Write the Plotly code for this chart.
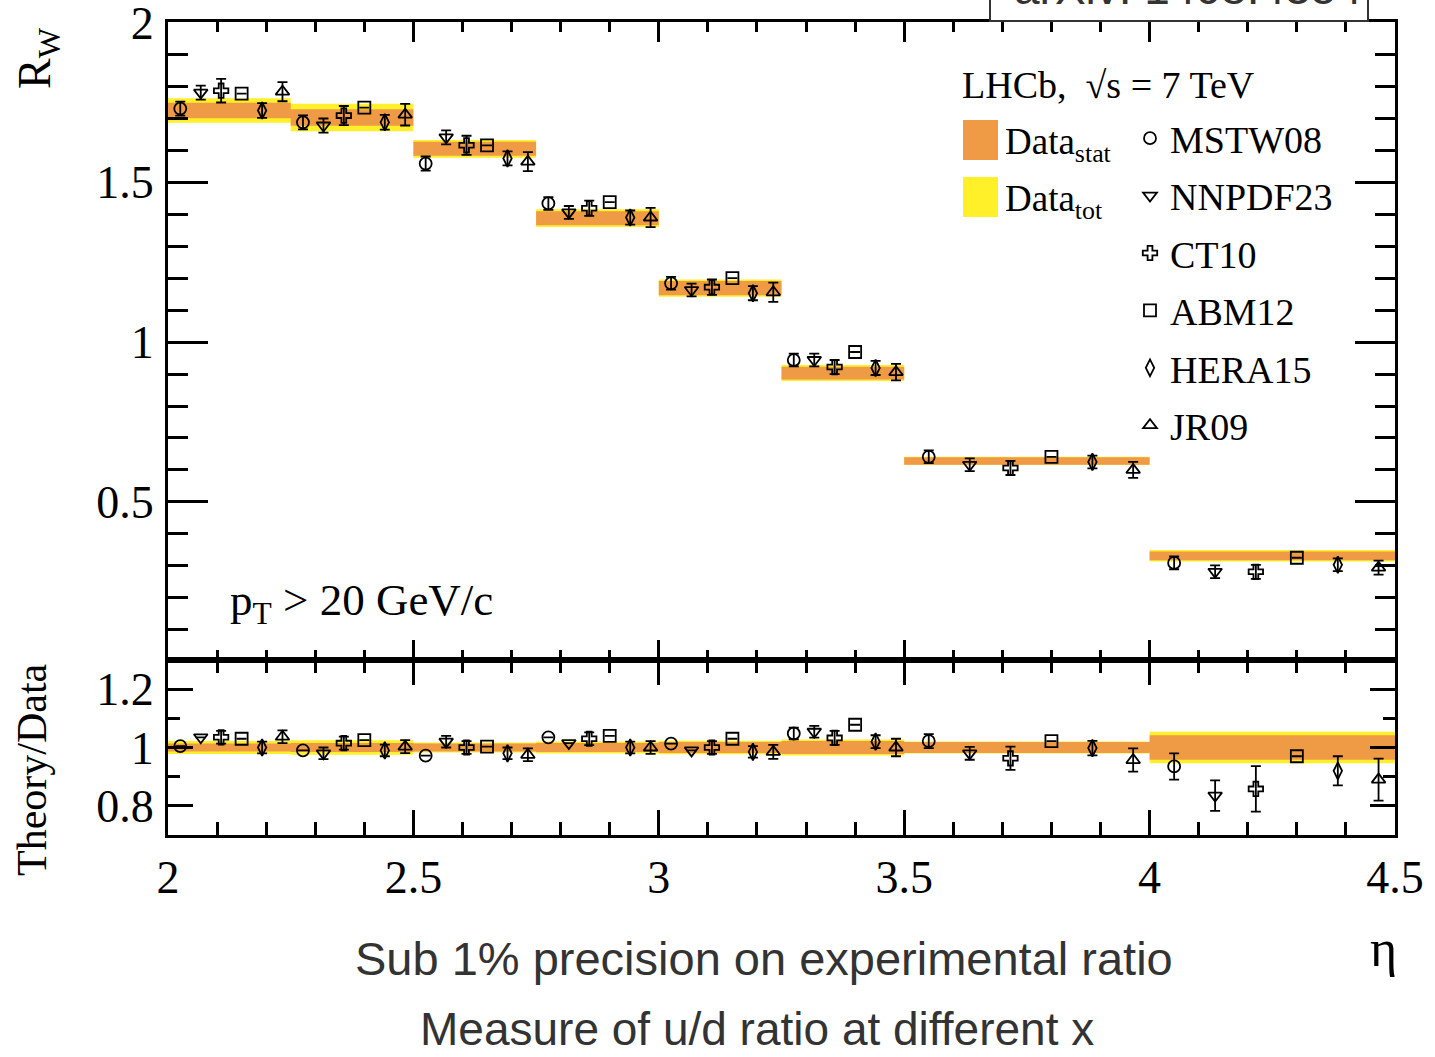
import plotly.graph_objects as go
from plotly.subplots import make_subplots

# ---------------- data ----------------
eta_lo = [2.0, 2.25, 2.5, 2.75, 3.0, 3.25, 3.5, 4.0]
eta_hi = [2.25, 2.5, 2.75, 3.0, 3.25, 3.5, 4.0, 4.5]

data_val = [1.725, 1.703, 1.605, 1.388, 1.169, 0.903, 0.628, 0.331]
data_stat = [0.024, 0.026, 0.022, 0.022, 0.022, 0.020, 0.012, 0.014]
data_tot = [0.038, 0.043, 0.028, 0.028, 0.027, 0.025, 0.013, 0.018]

pdf_names = ["MSTW08", "NNPDF23", "CT10", "ABM12", "HERA15", "JR09"]
pdf_symbols = ["circle-open", "triangle-down-open", "cross-open",
               "square-open", "diamond-tall-open", "triangle-up-open"]
pdf_sizes = [12, 12, 12, 12, 12, 12]
# fractional position of each theory point inside its eta bin
pdf_offsets = [0.10, 0.267, 0.433, 0.60, 0.767, 0.933]

mstw_rw = [1.731, 1.688, 1.559, 1.434, 1.184, 0.944, 0.641, 0.309]
mstw_rw_err = [0.022, 0.022, 0.022, 0.020, 0.020, 0.020, 0.020, 0.020]
mstw_ratio = [1.005, 0.990, 0.972, 1.035, 1.013, 1.048, 1.022, 0.935]
mstw_ratio_err = [0.0, 0.0, 0.0, 0.0, 0.0, 0.020, 0.024, 0.045]

nnpdf_rw = [1.781, 1.678, 1.641, 1.406, 1.163, 0.944, 0.616, 0.281]
nnpdf_rw_err = [0.022, 0.022, 0.022, 0.020, 0.020, 0.020, 0.020, 0.020]
nnpdf_ratio = [1.035, 0.980, 1.020, 1.015, 0.990, 1.054, 0.980, 0.835]
nnpdf_ratio_err = [0.0, 0.020, 0.020, 0.0, 0.0, 0.020, 0.022, 0.052]

ct10_rw = [1.787, 1.709, 1.616, 1.419, 1.172, 0.922, 0.606, 0.281]
ct10_rw_err = [0.037, 0.030, 0.030, 0.024, 0.024, 0.022, 0.022, 0.022]
ct10_ratio = [1.035, 1.015, 1.000, 1.030, 1.000, 1.033, 0.963, 0.858]
ct10_ratio_err = [0.022, 0.022, 0.022, 0.022, 0.022, 0.024, 0.040, 0.078]

abm_rw = [1.778, 1.734, 1.616, 1.438, 1.200, 0.969, 0.641, 0.325]
abm_rw_err = [0.0, 0.0, 0.0, 0.0, 0.0, 0.0, 0.0, 0.0]
abm_ratio = [1.030, 1.025, 1.003, 1.040, 1.030, 1.078, 1.022, 0.970]
abm_ratio_err = [0.0, 0.0, 0.0, 0.0, 0.0, 0.0, 0.0, 0.0]

hera_rw = [1.725, 1.688, 1.575, 1.390, 1.153, 0.919, 0.625, 0.303]
hera_rw_err = [0.023, 0.023, 0.022, 0.022, 0.022, 0.022, 0.020, 0.020]
hera_ratio = [1.000, 0.990, 0.980, 1.000, 0.985, 1.020, 0.998, 0.920]
hera_ratio_err = [0.020, 0.020, 0.020, 0.020, 0.020, 0.022, 0.025, 0.050]

jr09_rw = [1.784, 1.712, 1.565, 1.390, 1.156, 0.906, 0.600, 0.294]
jr09_rw_err = [0.030, 0.034, 0.030, 0.030, 0.030, 0.026, 0.025, 0.022]
jr09_ratio = [1.037, 1.003, 0.975, 1.000, 0.985, 1.000, 0.957, 0.890]
jr09_ratio_err = [0.022, 0.022, 0.022, 0.022, 0.024, 0.030, 0.040, 0.072]

pdf_rw = [mstw_rw, nnpdf_rw, ct10_rw, abm_rw, hera_rw, jr09_rw]
pdf_rw_err = [mstw_rw_err, nnpdf_rw_err, ct10_rw_err, abm_rw_err, hera_rw_err, jr09_rw_err]
pdf_ratio = [mstw_ratio, nnpdf_ratio, ct10_ratio, abm_ratio, hera_ratio, jr09_ratio]
pdf_ratio_err = [mstw_ratio_err, nnpdf_ratio_err, ct10_ratio_err, abm_ratio_err,
                 hera_ratio_err, jr09_ratio_err]

ORANGE = "#EF9A45"
YELLOW = "#FFF02A"
SERIF = "Liberation Serif"
SANS = "Liberation Sans"

W, H = 1435, 1057
L, R, T, B = 168, 40, 22, 222
PH = H - T - B
split = 175 / PH

fig = make_subplots(rows=2, cols=1, shared_xaxes=True, vertical_spacing=0)


def band(center, half, rel=False):
    xs, ys = [], []
    for lo, hi, c, h in zip(eta_lo, eta_hi, center, half):
        cc = 1.0 if rel else c
        hh = h / c if rel else h
        xs += [lo, hi, hi, lo, lo, None]
        ys += [cc - hh, cc - hh, cc + hh, cc + hh, cc - hh, None]
    return xs, ys


for row, rel in [(1, False), (2, True)]:
    for half, col in [(data_tot, YELLOW), (data_stat, ORANGE)]:
        bx, by = band(data_val, half, rel)
        fig.add_trace(go.Scatter(x=bx, y=by, mode="lines", fill="toself",
                                 fillcolor=col, line=dict(width=0, color=col),
                                 showlegend=False, hoverinfo="skip"), row=row, col=1)

for i, name in enumerate(pdf_names):
    xs = [lo + pdf_offsets[i] * (hi - lo) for lo, hi in zip(eta_lo, eta_hi)]
    mk = dict(symbol=pdf_symbols[i], size=pdf_sizes[i], color="black",
              line=dict(width=1.8, color="black"))
    fig.add_trace(go.Scatter(x=xs, y=pdf_rw[i], mode="markers", name=name, marker=mk,
                             legendgroup=name,
                             error_y=dict(type="data", array=pdf_rw_err[i], color="black",
                                          thickness=1.8, width=5),
                             showlegend=True), row=1, col=1)
    fig.add_trace(go.Scatter(x=xs, y=pdf_ratio[i], mode="markers", name=name, marker=mk,
                             legendgroup=name,
                             error_y=dict(type="data", array=pdf_ratio_err[i], color="black",
                                          thickness=1.8, width=5),
                             showlegend=False), row=2, col=1)

axis_common = dict(showline=True, linewidth=3, linecolor="black", mirror="ticks",
                   ticks="inside", tickwidth=2.5, tickcolor="black", showgrid=False,
                   zeroline=False, ticklabeloverflow="allow", automargin=False,
                   tickfont=dict(family=SERIF, size=46, color="black"))

fig.update_xaxes(**axis_common, range=[2, 4.5], tick0=2, dtick=0.5)
fig.update_xaxes(row=1, col=1, showticklabels=False, ticklen=20,
                 minor=dict(ticks="inside", ticklen=10, dtick=0.1, tick0=2,
                            tickwidth=2.5, tickcolor="black", showgrid=False))
fig.update_xaxes(row=2, col=1, ticklen=25, ticklabelstandoff=0,
                 minor=dict(ticks="inside", ticklen=13, dtick=0.1, tick0=2,
                            tickwidth=2.5, tickcolor="black", showgrid=False))
fig.update_yaxes(**axis_common)
fig.update_yaxes(row=1, col=1, domain=[split, 1], range=[0.005, 2.002],
                 tickmode="array", tickvals=[0.5, 1, 1.5, 2], ticktext=["0.5", "1", "1.5", "2"],
                 ticklen=40, ticklabelstandoff=2,
                 minor=dict(ticks="inside", ticklen=20, dtick=0.1, tick0=0,
                            tickwidth=2.5, tickcolor="black", showgrid=False))
fig.update_yaxes(row=2, col=1, domain=[0, split], range=[0.7, 1.3], tick0=0.8, dtick=0.2,
                 ticklen=25, ticklabelstandoff=2,
                 minor=dict(ticks="inside", ticklen=12, dtick=0.1, tick0=0.8,
                            tickwidth=2.5, tickcolor="black", showgrid=False))


def px(xp):
    return (xp - L) / (W - L - R)


def py(yp):
    return (H - B - yp) / PH


ann = []
ann.append(dict(text="R<sub>W</sub>", x=px(38), y=py(58), textangle=-90,
                font=dict(family=SERIF, size=46, color="black")))
ann.append(dict(text="Theory/Data", x=px(32), y=py(770), textangle=-90,
                font=dict(family=SERIF, size=42, color="black")))
ann.append(dict(text="η", x=px(1383), y=py(948),
                font=dict(family=SERIF, size=52, color="black")))
ann.append(dict(text="p<sub>T</sub> > 20 GeV/c", x=px(228), y=py(603), xanchor="left",
                font=dict(family=SERIF, size=45, color="black")))
ann.append(dict(text="LHCb,  √s = 7 TeV", x=px(960), y=py(85), xanchor="left",
                font=dict(family=SERIF, size=38, color="black")))
ann.append(dict(text="Data<sub>stat</sub>", x=px(1003), y=py(145), xanchor="left",
                font=dict(family=SERIF, size=37, color="black")))
ann.append(dict(text="Data<sub>tot</sub>", x=px(1003), y=py(201), xanchor="left",
                font=dict(family=SERIF, size=37, color="black")))
ann.append(dict(text="Sub 1% precision on experimental ratio", x=px(764), y=py(958),
                font=dict(family=SANS, size=47, color="#333333")))
ann.append(dict(text="Measure of u/d ratio at different x", x=px(757), y=py(1029),
                font=dict(family=SANS, size=46, color="#333333")))
ann.append(dict(text="arXiv: 1408.4354", x=px(1188), y=py(16), yanchor="bottom",
                xanchor="center", font=dict(family=SANS, size=46, color="#333333")))
for a in ann:
    a.update(xref="paper", yref="paper", showarrow=False)
    a.setdefault("xanchor", "center")
    a.setdefault("yanchor", "middle")

shapes = [
    dict(type="rect", xref="paper", yref="paper", x0=px(963), x1=px(998),
         y0=py(160), y1=py(120), fillcolor=ORANGE, line=dict(width=0)),
    dict(type="rect", xref="paper", yref="paper", x0=px(963), x1=px(998),
         y0=py(217), y1=py(177), fillcolor=YELLOW, line=dict(width=0)),
    dict(type="rect", xref="paper", yref="paper", x0=px(990), x1=px(1368),
         y0=py(21), y1=py(-40), fillcolor="white", line=dict(width=2, color="#333333"),
         layer="above"),
]

fig.update_layout(
    width=W, height=H, margin=dict(l=L, r=R, t=T, b=B, autoexpand=False),
    paper_bgcolor="white", plot_bgcolor="white",
    annotations=ann, shapes=shapes,
    legend=dict(x=px(1130), y=py(107), xanchor="left", yanchor="top",
                bgcolor="rgba(0,0,0,0)", font=dict(family=SERIF, size=38, color="black"),
                itemwidth=30, tracegroupgap=5),
)

fig.write_html("out.html")
